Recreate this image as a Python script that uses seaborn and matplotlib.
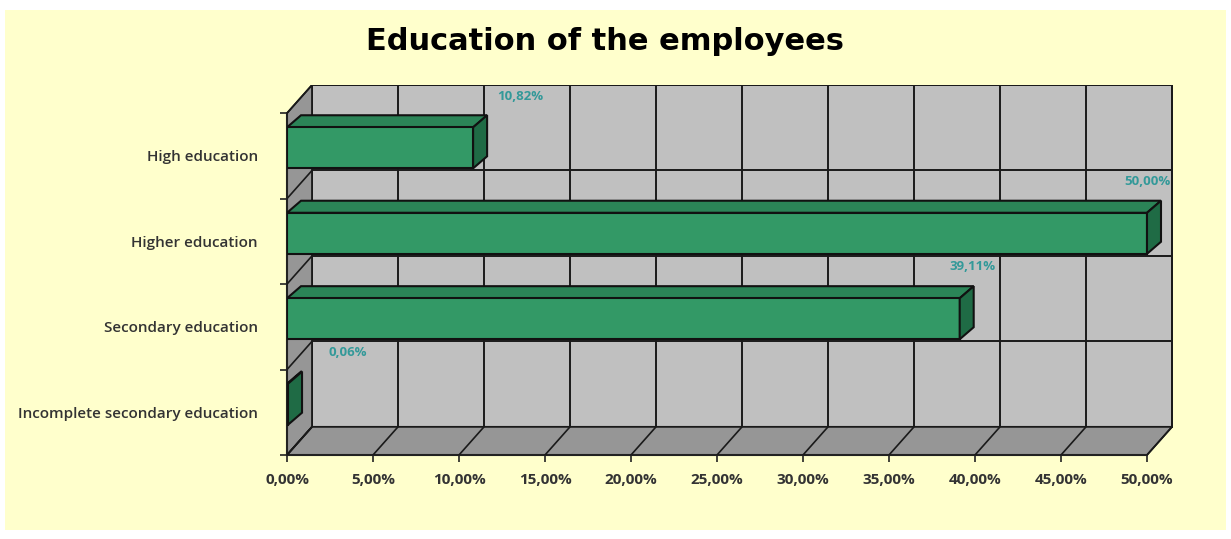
import matplotlib
matplotlib.use("Agg")
import matplotlib.pyplot as plt
import seaborn as sns
import pandas as pd
import numpy as np
from matplotlib.patches import Rectangle, Polygon
from matplotlib.ticker import FixedLocator

categories = ["High education", "Higher education", "Secondary education",
              "Incomplete secondary education"]
values = [10.82, 50.00, 39.11, 0.06]
value_labels = ["10,82%", "50,00%", "39,11%", "0,06%"]
xticks = [0, 5, 10, 15, 20, 25, 30, 35, 40, 45, 50]
xtick_labels = ["0,00%", "5,00%", "10,00%", "15,00%", "20,00%", "25,00%",
                "30,00%", "35,00%", "40,00%", "45,00%", "50,00%"]

df = pd.DataFrame({"category": categories, "value": values})

sns.set_theme(style="white")
plt.rcParams["font.family"] = ["Open Sans", "DejaVu Sans"]

W, H = 1231, 539
fig = plt.figure(figsize=(W / 100, H / 100), dpi=100)
fig.patch.set_facecolor("white")
fig.add_artist(Rectangle((5 / W, 1 - 530 / H), 1221 / W, 520 / H,
                         transform=fig.transFigure, facecolor="#ffffcc",
                         edgecolor="none", zorder=-10))

# axes geometry (pixels)
x0_px, x50_px = 287, 1147
ppu = (x50_px - x0_px) / 50.0          # pixels per percent
xmax = 51.6
top_px, bot_px = 85, 455
ax = fig.add_axes([x0_px / W, 1 - bot_px / H, xmax * ppu / W, (bot_px - top_px) / H])
ax.set_facecolor("none")

# depth of the pseudo-3D walls / bars (style constants)
slot_px = 85.0
wall_dx = 25 / ppu
wall_dy = 28 / slot_px
bar_dx = 14 / ppu
bar_dy = 12 / slot_px
bar_lift = 8 / slot_px

sns.barplot(data=df, x="value", y="category", order=categories, orient="h",
            color="#339966", saturation=1, width=0.48, edgecolor="#111111",
            linewidth=1.5, ax=ax, zorder=5)
bars = [p for p in ax.patches if isinstance(p, Rectangle)]

ylo = 3.5
yhi = -0.5 - wall_dy
ax.set_xlim(0, xmax)
ax.set_ylim(ylo, yhi)

wall_col = "#969696"
back_col = "#c0c0c0"
line_col = "#1a1a1a"
# back wall
ax.add_patch(Polygon([(wall_dx, ylo - wall_dy), (50 + wall_dx, ylo - wall_dy),
                      (50 + wall_dx, yhi), (wall_dx, yhi)], closed=True,
                     facecolor=back_col, edgecolor=line_col, lw=1.4, zorder=0.5))
# left wall
ax.add_patch(Polygon([(0, ylo), (0, -0.5), (wall_dx, -0.5 - wall_dy),
                      (wall_dx, ylo - wall_dy)], closed=True,
                     facecolor=wall_col, edgecolor=line_col, lw=1.3, zorder=2))
# floor
ax.add_patch(Polygon([(0, ylo), (50, ylo), (50 + wall_dx, ylo - wall_dy),
                      (wall_dx, ylo - wall_dy)], closed=True,
                     facecolor=wall_col, edgecolor=line_col, lw=1.3, zorder=2))
# grid on back wall, floor and left wall
for t in xticks:
    ax.plot([t + wall_dx, t + wall_dx], [ylo - wall_dy, yhi], color=line_col, lw=1.4, zorder=1)
    ax.plot([t, t + wall_dx], [ylo, ylo - wall_dy], color=line_col, lw=1.2, zorder=3)
for b in [-0.5, 0.5, 1.5, 2.5, 3.5]:
    ax.plot([wall_dx, 50 + wall_dx], [b - wall_dy, b - wall_dy], color=line_col, lw=1.4, zorder=1)
    ax.plot([0, wall_dx], [b, b - wall_dy], color=line_col, lw=1.2, zorder=3)

# 3D faces of the bars seaborn drew
for p in bars:
    p.set_y(p.get_y() - bar_lift)
    x, y, w, h = p.get_x(), p.get_y(), p.get_width(), p.get_height()
    yt, yb = min(y, y + h), max(y, y + h)
    xr = x + w
    top = Polygon([(x, yt), (xr, yt), (xr + bar_dx, yt - bar_dy), (x + bar_dx, yt - bar_dy)],
                  closed=True, facecolor="#2b8457", edgecolor="#111111", lw=1.5, zorder=4)
    side = Polygon([(xr, yt), (xr + bar_dx, yt - bar_dy), (xr + bar_dx, yb - bar_dy), (xr, yb)],
                   closed=True, facecolor="#1f6b45", edgecolor="#111111", lw=1.5, zorder=6)
    ax.add_patch(top)
    ax.add_patch(side)

ax.set_xticks(xticks)
ax.set_xticklabels(xtick_labels, fontsize=11, fontweight="bold", color="#333333")
ax.set_yticks(range(len(categories)))
ax.set_yticklabels(categories, fontsize=11, fontweight="semibold", color="#333333")
ax.tick_params(axis="y", length=0, pad=21)
ax.tick_params(axis="x", length=5, width=1.2, color="#222222", bottom=True, pad=8)
ax.yaxis.set_minor_locator(FixedLocator([-0.5, 0.5, 1.5, 2.5, 3.5]))
ax.tick_params(axis="y", which="minor", length=5, width=1.2, color="#222222", left=True)

for i, (v, lab) in enumerate(zip(values, value_labels)):
    ax.text(3.5 + v * 0.93, i - 0.7, lab, ha="center", va="center",
            fontsize=9.5, fontweight="bold", color="#339999", zorder=7)

for s in ["top", "right"]:
    ax.spines[s].set_visible(False)
for s in ["left", "bottom"]:
    ax.spines[s].set_color("#222222")
    ax.spines[s].set_linewidth(1.5)
ax.spines["bottom"].set_bounds(0, 50)
ax.spines["left"].set_bounds(-0.5, 3.5)

ax.set_xlabel("")
ax.set_ylabel("")

fig.text(605 / W, 1 - 42 / H, "Education of the employees",
         ha="center", va="center", fontsize=22, fontweight="heavy",
         family=["DejaVu Sans"], color="black")

fig.savefig("out.png", dpi=100, facecolor=fig.get_facecolor())
